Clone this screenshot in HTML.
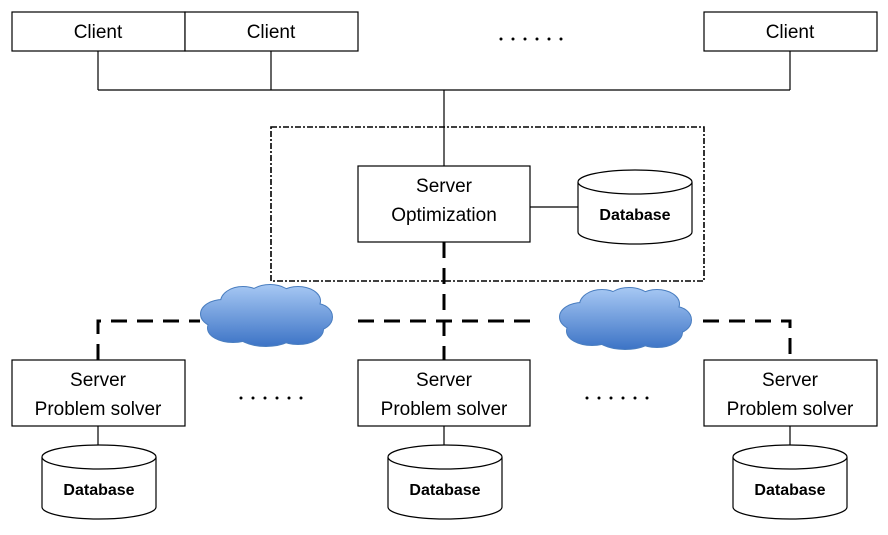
<!DOCTYPE html>
<html><head><meta charset="utf-8"><style>
body{margin:0;background:#fff;}
svg text{font-family:"Liberation Sans",sans-serif;}
</style></head><body>
<svg width="888" height="530" viewBox="0 0 888 530" xmlns="http://www.w3.org/2000/svg">
<defs>
<linearGradient id="cg" gradientUnits="userSpaceOnUse" x1="0" y1="0" x2="0" y2="62">
<stop offset="0" stop-color="#a8c9f4"/><stop offset="1" stop-color="#3d74c6"/>
</linearGradient>
<g id="cloud">
<g stroke="#4a7ec0" stroke-width="2" fill="#4a7ec0">
<ellipse cx="25" cy="30" rx="22" ry="14"/><ellipse cx="45" cy="18" rx="22" ry="15"/><ellipse cx="72" cy="14" rx="22" ry="13"/><ellipse cx="100" cy="17" rx="22" ry="14"/><ellipse cx="118" cy="33" rx="16" ry="13"/><ellipse cx="100" cy="45" rx="25" ry="15"/><ellipse cx="68" cy="48" rx="30" ry="14"/><ellipse cx="35" cy="44" rx="25" ry="14"/><ellipse cx="65" cy="30" rx="45" ry="18"/>
</g>
<g fill="url(#cg)">
<ellipse cx="25" cy="30" rx="22" ry="14"/><ellipse cx="45" cy="18" rx="22" ry="15"/><ellipse cx="72" cy="14" rx="22" ry="13"/><ellipse cx="100" cy="17" rx="22" ry="14"/><ellipse cx="118" cy="33" rx="16" ry="13"/><ellipse cx="100" cy="45" rx="25" ry="15"/><ellipse cx="68" cy="48" rx="30" ry="14"/><ellipse cx="35" cy="44" rx="25" ry="14"/><ellipse cx="65" cy="30" rx="45" ry="18"/>
</g>
</g>
<g id="db">
<path d="M0,12 L0,62 A57,12 0 0 0 114,62 L114,12" fill="#fff" stroke="#000" stroke-width="1.2"/>
<ellipse cx="57" cy="12" rx="57" ry="12" fill="#fff" stroke="#000" stroke-width="1.2"/>
<text x="57" y="50" text-anchor="middle" font-size="16" font-weight="bold">Database</text>
</g>
<g id="dots" fill="#000">
<circle cx="0" cy="0" r="1.5"/><circle cx="12" cy="0" r="1.5"/><circle cx="24" cy="0" r="1.5"/><circle cx="36" cy="0" r="1.5"/><circle cx="48" cy="0" r="1.5"/><circle cx="60" cy="0" r="1.5"/>
</g>
</defs>
<g stroke="#000" stroke-width="1.2" fill="#fff">
<rect x="12" y="12" width="173" height="39"/>
<rect x="185" y="12" width="173" height="39"/>
<rect x="704" y="12" width="173" height="39"/>
<path d="M98,51V90M271,51V90M790,51V90M98,90H790M444,90V166" fill="none"/>
<rect x="271" y="127" width="433" height="154" fill="none" stroke-width="1.6" stroke-dasharray="6,2,2,2"/>
<rect x="358" y="166" width="172" height="76"/>
<path d="M530,207H578" fill="none"/>
<rect x="12" y="360" width="173" height="66"/>
<rect x="358" y="360" width="172" height="66"/>
<rect x="704" y="360" width="173" height="66"/>
<path d="M98,426V446M444,426V446M790,426V446" fill="none"/>
</g>
<g stroke="#000" stroke-width="3" fill="none" stroke-dasharray="16,10">
<path d="M444,242V360"/>
<path d="M98,360V321H200"/>
<path d="M358,321H530"/>
<path d="M703,321H790V360"/>
</g>
<use href="#db" x="578" y="170"/>
<use href="#db" x="42" y="445"/>
<use href="#db" x="388" y="445"/>
<use href="#db" x="733" y="445"/>
<use href="#cloud" x="198" y="284"/>
<use href="#cloud" x="557" y="287"/>
<use href="#dots" x="501" y="39"/>
<use href="#dots" x="241" y="398"/>
<use href="#dots" x="587" y="398"/>
<g font-size="19" text-anchor="middle" fill="#000">
<text x="98" y="38">Client</text>
<text x="271" y="38">Client</text>
<text x="790" y="38">Client</text>
<text x="444" y="192">Server</text>
<text x="444" y="221">Optimization</text>
<text x="98" y="386">Server</text><text x="98" y="415">Problem solver</text>
<text x="444" y="386">Server</text><text x="444" y="415">Problem solver</text>
<text x="790" y="386">Server</text><text x="790" y="415">Problem solver</text>
</g>
</svg>
</body></html>
